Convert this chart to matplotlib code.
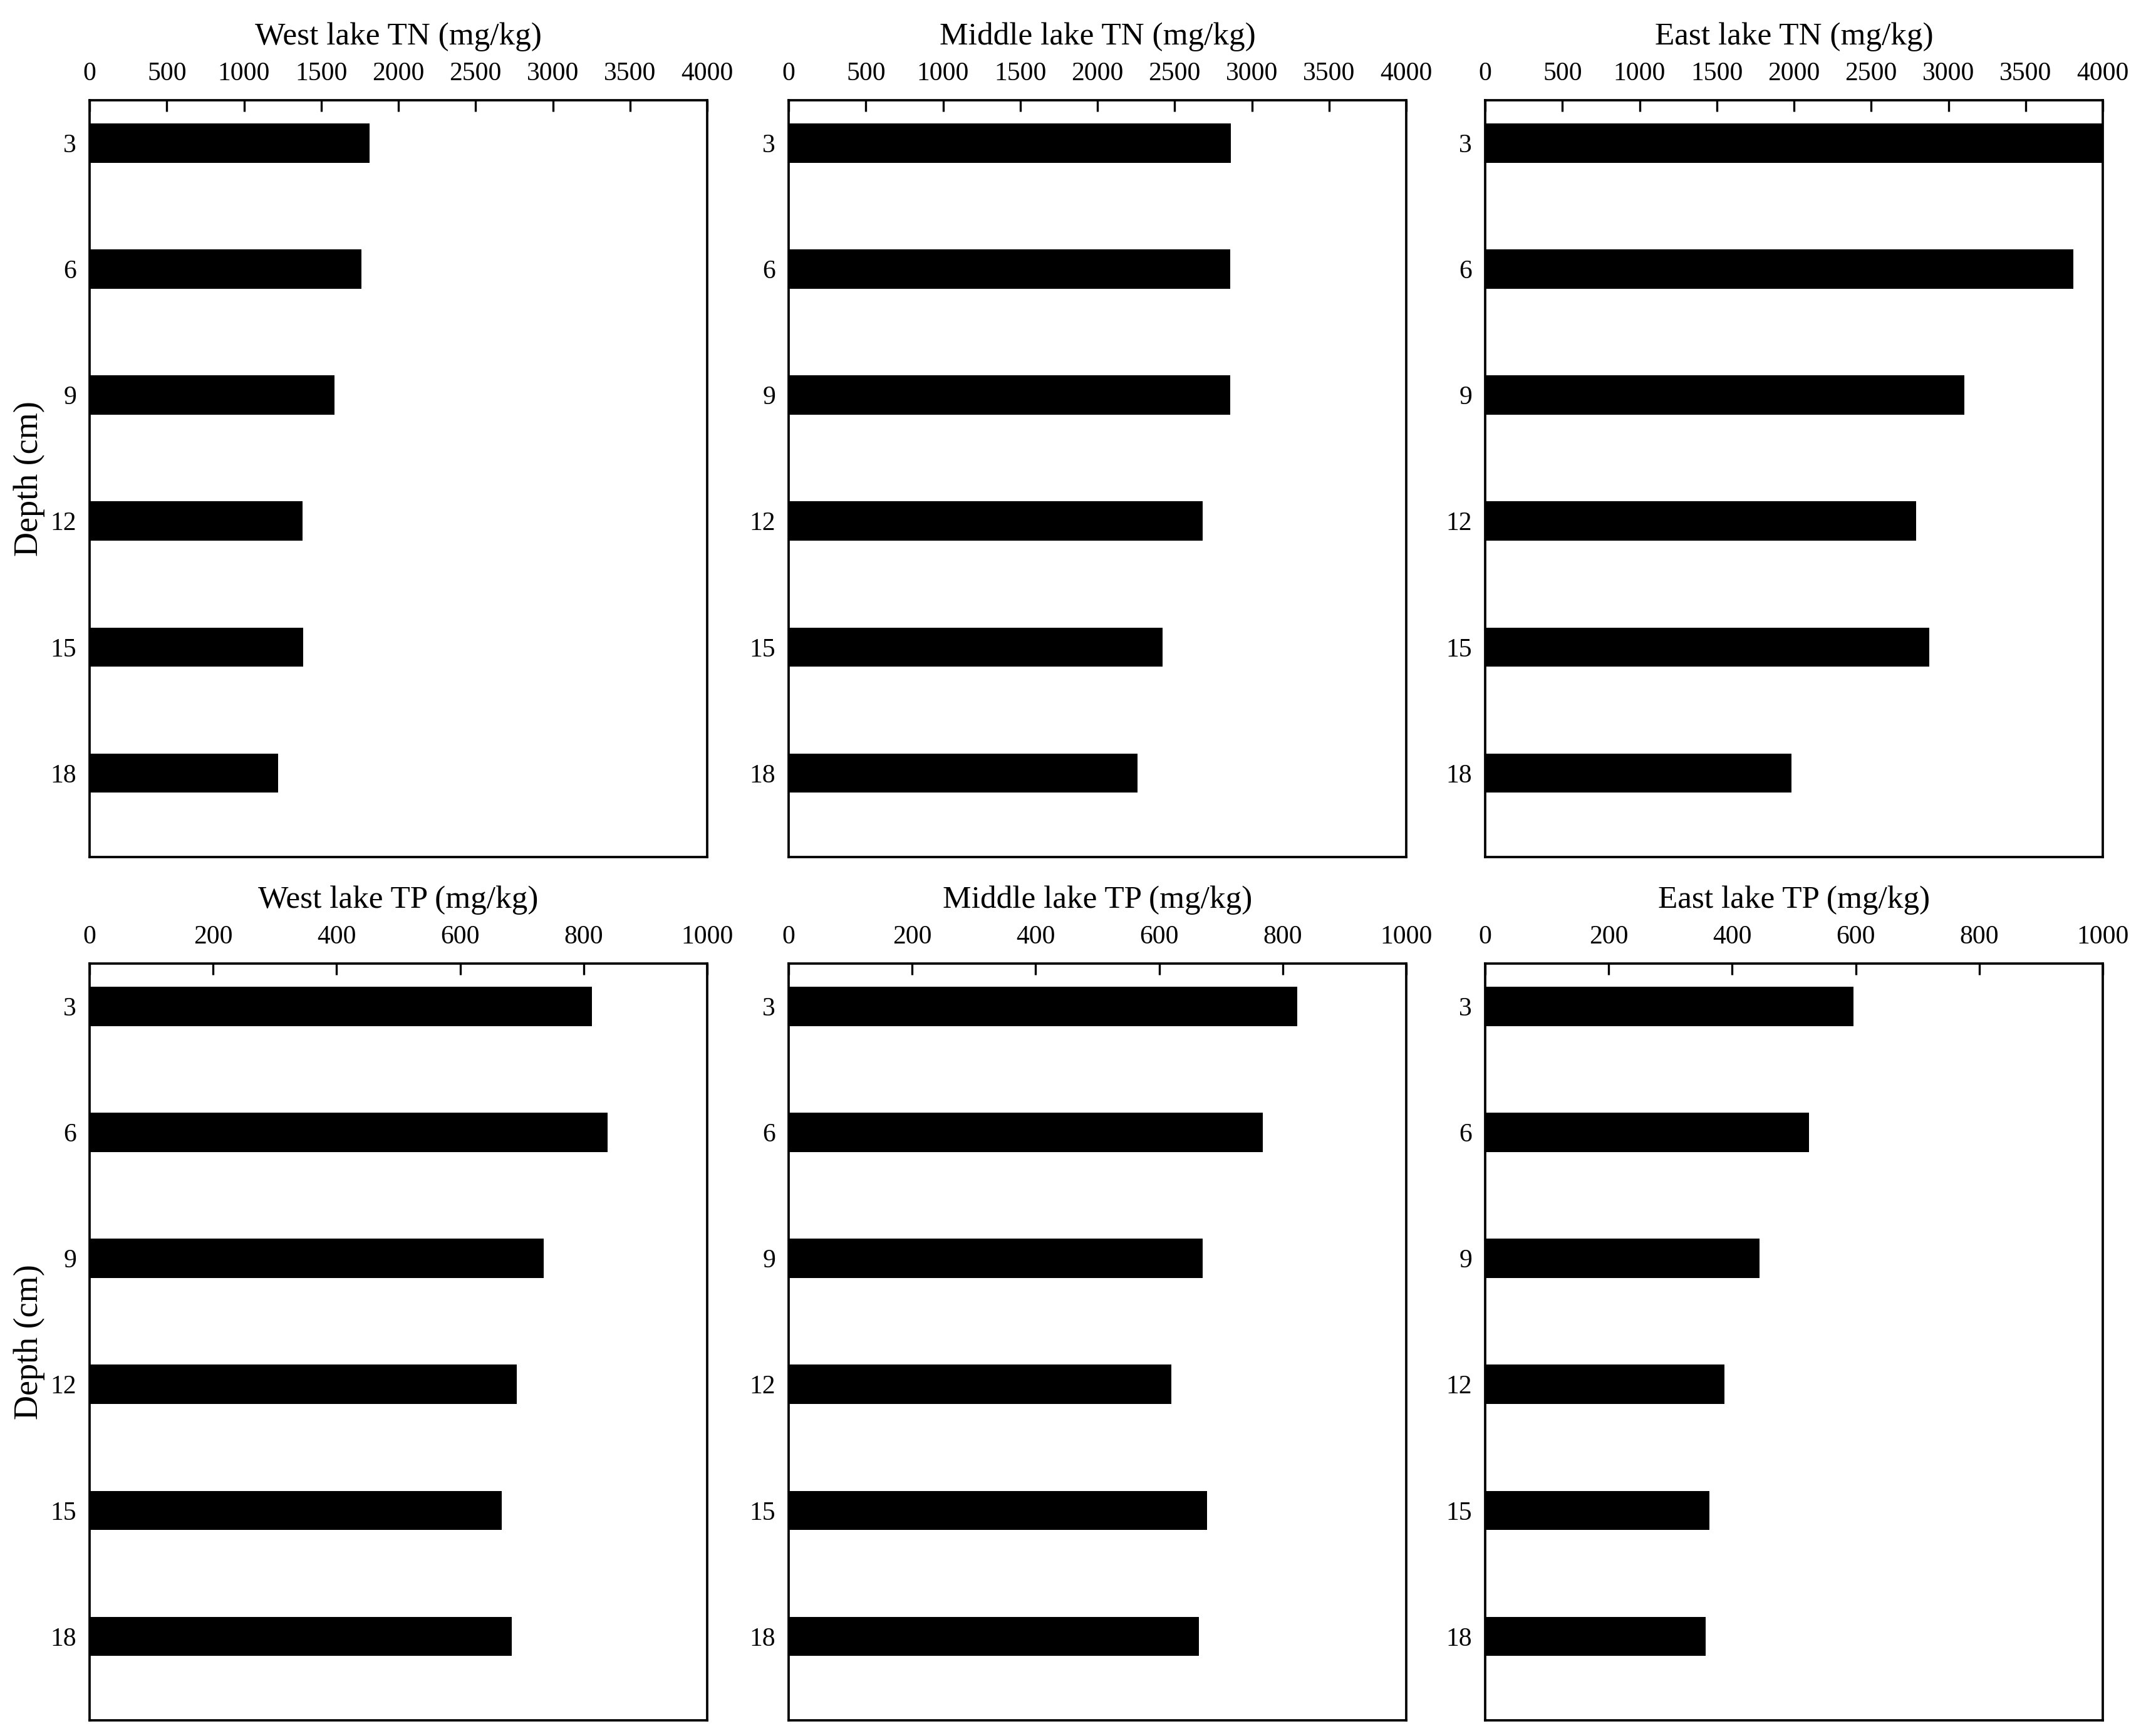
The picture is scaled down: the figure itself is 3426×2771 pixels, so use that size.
import matplotlib as mpl
import matplotlib.pyplot as plt
import numpy as np

DEPTHS = ["3", "6", "9", "12", "15", "18"]

WEST_TN = [1813, 1759, 1586, 1378, 1382, 1220]
MIDDLE_TN = [2864, 2859, 2859, 2680, 2422, 2260]
EAST_TN = [4000, 3808, 3102, 2792, 2875, 1985]

WEST_TP = [813, 839, 735, 692, 667, 684]
MIDDLE_TP = [824, 768, 670, 620, 677, 664]
EAST_TP = [596, 524, 444, 387, 363, 357]

TN_TICKS = [0, 500, 1000, 1500, 2000, 2500, 3000, 3500, 4000]
TP_TICKS = [0, 200, 400, 600, 800, 1000]

PANELS = [
    ("West lake TN (mg/kg)", WEST_TN, TN_TICKS),
    ("Middle lake TN (mg/kg)", MIDDLE_TN, TN_TICKS),
    ("East lake TN (mg/kg)", EAST_TN, TN_TICKS),
    ("West lake TP (mg/kg)", WEST_TP, TP_TICKS),
    ("Middle lake TP (mg/kg)", MIDDLE_TP, TP_TICKS),
    ("East lake TP (mg/kg)", EAST_TP, TP_TICKS),
]

W, H = 3426, 2771
COL_LEFT = [143, 1259, 2371]
AX_W = 986
ROW_TOP = [160, 1538]
AX_H = 1208


def plot_panel(ax, title, values, ticks, ylabel):
    y = np.arange(len(DEPTHS))
    ax.barh(y, values, height=0.31, color="black", edgecolor="none")
    ax.set_xlim(ticks[0], ticks[-1])
    ax.set_ylim(5.667, -0.34)
    ax.set_yticks(y)
    ax.set_yticklabels(DEPTHS)
    ax.set_xticks(ticks)
    ax.set_xticklabels([str(t) for t in ticks])
    ax.xaxis.tick_top()
    ax.tick_params(axis="x", direction="in", length=4.4, width=0.8, pad=5.5,
                   labelsize=10, top=True, bottom=False)
    ax.tick_params(axis="y", direction="in", length=0, pad=5, labelsize=10)
    for sp in ax.spines.values():
        sp.set_linewidth(0.9)
    ax.text(0.5, 1.074, title, transform=ax.transAxes, ha="center",
            va="baseline", fontsize=12.3)
    if ylabel:
        ax.set_ylabel("Depth (cm)", fontsize=13, labelpad=2)


def main():
    mpl.rcParams.update({
        "font.family": ["Liberation Serif", "DejaVu Serif"],
        "axes.edgecolor": "black",
    })
    fig = plt.figure(figsize=(W / 300, H / 300), dpi=300)
    for i, (title, values, ticks) in enumerate(PANELS):
        row, col = divmod(i, 3)
        left = COL_LEFT[col] / W
        bottom = 1 - (ROW_TOP[row] + AX_H) / H
        ax = fig.add_axes([left, bottom, AX_W / W, AX_H / H])
        plot_panel(ax, title, values, ticks, ylabel=(col == 0))
    fig.savefig("out.png", dpi=300, facecolor="white")


if __name__ == "__main__":
    main()
